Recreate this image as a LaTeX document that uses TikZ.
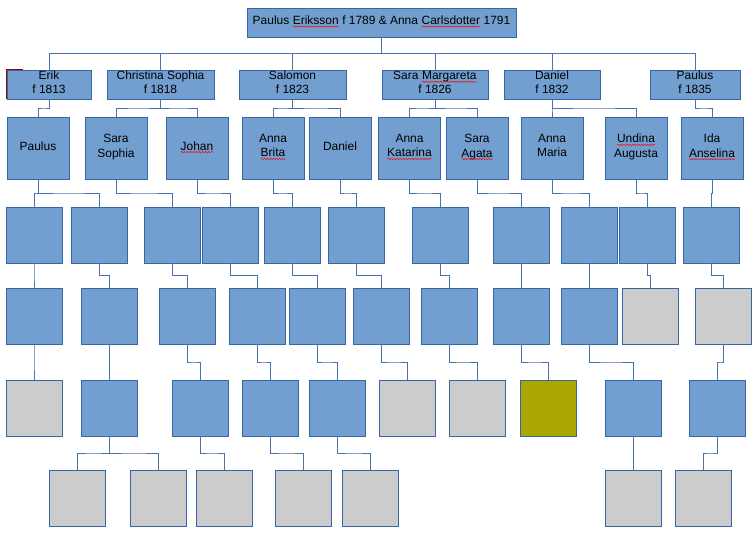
\documentclass[tikz,border=0pt]{standalone}
\usepackage{fontspec}
\setmainfont{Liberation Sans}
\usetikzlibrary{calc, decorations.pathmorphing}
\definecolor{boxblue}{HTML}{729FCF}
\definecolor{boxline}{HTML}{3465A4}
\definecolor{boxgray}{HTML}{CCCCCC}
\definecolor{boxolive}{HTML}{A9A700}
\definecolor{linkblue}{HTML}{4A72AC}
\newcommand\spellmark[1]{\tikz[baseline=(word.base)]{%
  \node[inner sep=0pt, outer sep=0pt, draw=none, fill=none, minimum size=0pt] (word) {#1};%
  \draw[red, line width=0.5pt, decorate, decoration={snake, amplitude=0.6pt, segment length=3pt}]
    ([yshift=-2pt]word.base west) -- ([yshift=-2pt]word.base east);}}
\tikzset{
  person/.style={
    draw=boxline,
    fill=boxblue,
    line width=0.9pt,
    inner sep=1pt,
    align=center,
    text=black,
    execute at end node={\rule[-4.5bp]{0pt}{4.5bp}}
  },
  parent box/.style={
    person,
    minimum height=29bp,
    font=\fontsize{12}{13.3}\selectfont
  },
  child box/.style={
    person,
    minimum width=62bp,
    minimum height=62bp,
    font=\fontsize{12}{14.3}\selectfont
  },
  empty box/.style={
    draw=boxline,
    fill=boxblue,
    line width=0.9pt,
    inner sep=0pt,
    minimum size=56bp
  },
  link/.style={
    draw=linkblue,
    line width=0.9pt
  },
  elbow/.style={
    to path={(\tikztostart) |- ($(\tikztostart)!.5!(\tikztotarget)$) -| (\tikztotarget)}
  }
}
\begin{document}
\begin{tikzpicture}[x=1bp, y=-1bp]
    \useasboundingbox (0,0) rectangle (756,546);

    % parents
    \node[parent box, minimum width=269bp] (top) at (381.5,22.5)
      {Paulus \spellmark{Eriksson} f 1789 \& Anna \spellmark{Carlsdotter} 1791};

    % children
    \node[parent box, minimum width=84bp] (erik) at (49,84.5) {Erik\\f 1813};
    \node[parent box, minimum width=107bp] (christina) at (160.5,84.5) {Christina Sophia\\f 1818};
    \node[parent box, minimum width=107bp] (salomon) at (292.5,84.5) {Salomon\\f 1823};
    \node[parent box, minimum width=106bp] (saramarg) at (435,84.5) {Sara \spellmark{Margareta}\\f 1826};
    \node[parent box, minimum width=96bp] (danielf) at (552,84.5) {Daniel\\f 1832};
    \node[parent box, minimum width=90bp] (paulusf) at (695,84.5) {Paulus\\f 1835};
    \draw[red!60!black, line width=0.8pt] ($(erik.north west)+(16,0)$) -| (erik.south west);

    % grandchildren
    \node[child box] (paulus) at (38,148) {Paulus};
    \node[child box] (sarasophia) at (116,148) {Sara\\Sophia};
    \node[child box] (johan) at (197,148) {\spellmark{Johan}};
    \node[child box] (annabrita) at (273,148) {Anna\\\spellmark{Brita}};
    \node[child box] (danielj) at (340,148) {Daniel};
    \node[child box] (annakatarina) at (409.5,148) {Anna\\\spellmark{Katarina}};
    \node[child box] (saraagata) at (477,148) {Sara\\\spellmark{Agata}};
    \node[child box] (annamaria) at (552,148) {Anna\\Maria};
    \node[child box] (undina) at (636,148) {\spellmark{Undina}\\Augusta};
    \node[child box] (ida) at (712,148) {Ida\\\spellmark{Anselina}};

    % later generations
    \foreach \n/\x in {a/34,b/99,c/172,d/230,e/292,f/356,g/440,h/521,i/589,j/647,k/711}
      \node[empty box] (g3\n) at (\x,235) {};
    \foreach \n/\x/\f in {a/34/boxblue,b/109/boxblue,c/187/boxblue,d/257/boxblue,e/317/boxblue,
        f/381/boxblue,g/449/boxblue,h/521/boxblue,i/589/boxblue,j/650/boxgray,k/723/boxgray}
      \node[empty box, fill=\f] (g4\n) at (\x,316) {};
    \foreach \n/\x/\f in {a/34/boxgray,b/109/boxblue,c/200/boxblue,d/270/boxblue,e/337/boxblue,
        f/407/boxgray,g/477/boxgray,h/548/boxolive,i/633/boxblue,k/717/boxblue}
      \node[empty box, fill=\f] (g5\n) at (\x,408) {};
    \foreach \n/\x in {b1/77,b2/158,c/224,d/303,e/370,i/633,k/703}
      \node[empty box, fill=boxgray] (g6\n) at (\x,498) {};

    % connectors
    \foreach \c in {erik,christina,salomon,saramarg,danielf,paulusf}
      \draw[link] (top.south) to[elbow] (\c.north);
    \foreach \p/\c in {erik/paulus,christina/sarasophia,christina/johan,salomon/annabrita,
        salomon/danielj,saramarg/annakatarina,saramarg/saraagata,danielf/annamaria,
        danielf/undina,paulusf/ida}
      \draw[link] (\p.south) to[elbow] (\c.north);
    \foreach \p/\c in {paulus/g3a,paulus/g3b,sarasophia/g3c,johan/g3d,annabrita/g3e,
        danielj/g3f,annakatarina/g3g,saraagata/g3h,annamaria/g3i,undina/g3j,ida/g3k}
      \draw[link] (\p.south) to[elbow] (\c.north);
    \foreach \n in {a,...,k}
      \draw[link] (g3\n.south) to[elbow] (g4\n.north);
    \foreach \n in {a,b,c,d,e,f,g,h,i,k}
      \draw[link] (g4\n.south) to[elbow] (g5\n.north);
    \foreach \p/\c in {b/b1,b/b2,c/c,d/d,e/e,i/i,k/k}
      \draw[link] (g5\p.south) to[elbow] (g6\c.north);
\end{tikzpicture}
\end{document}
